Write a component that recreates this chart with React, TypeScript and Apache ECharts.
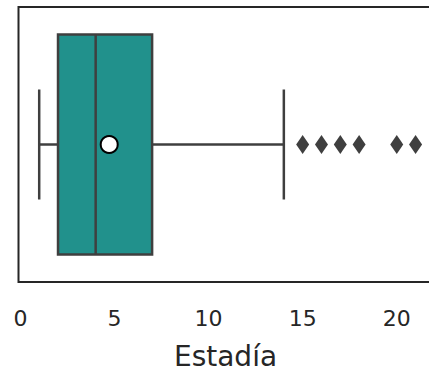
import React, { useEffect, useRef } from "react";
import * as echarts from "echarts";

// Five-number summary of the stay length: [lower whisker, Q1, median, Q3, upper whisker]
const boxStats = [1, 2, 4, 7, 14];
// Values beyond the whiskers
const outliers = [15, 16, 17, 18, 20, 21];
// Mean stay length
const meanValue = [4.72];
const axisTicks = [0, 5, 10, 15, 20];
const axisTitle = "Estadía";

const LINE = "#3f3f3f";
const FILL = "#21918c";
const FONT = "DejaVu Sans";

export default function App() {
  const ref = useRef<HTMLDivElement>(null);

  useEffect(() => {
    if (!ref.current) return;
    const chart = echarts.init(ref.current, undefined, { renderer: "svg" });

    chart.setOption({
      animation: false,
      backgroundColor: "#ffffff",
      grid: {
        show: true,
        left: 18.5,
        top: 7,
        right: -3.5,
        bottom: 90,
        outerBoundsMode: "none",
        containLabel: false,
        borderColor: "#262626",
        borderWidth: 2,
        backgroundColor: "transparent",
      },
      xAxis: {
        type: "value",
        min: -0.1,
        max: 21.9,
        splitNumber: 5,
        axisLine: { show: false },
        axisTick: { show: false },
        splitLine: { show: false },
        axisLabel: {
          margin: 25,
          fontSize: 22,
          fontFamily: FONT,
          color: "#262626",
          formatter: (v: number) => (axisTicks.includes(v) ? String(v) : ""),
        },
        name: axisTitle,
        nameLocation: "middle",
        nameGap: 60,
        nameTextStyle: { fontSize: 28, fontFamily: FONT, color: "#262626" },
      },
      yAxis: {
        type: "value",
        min: -0.5,
        max: 0.5,
        show: false,
      },
      series: [
        {
          type: "custom",
          coordinateSystem: "cartesian2d",
          data: [boxStats],
          encode: { x: [0, 1, 2, 3, 4] },
          z: 2,
          renderItem: (_params: any, api: any) => {
            const lo = api.value(0);
            const q1 = api.value(1);
            const med = api.value(2);
            const q3 = api.value(3);
            const hi = api.value(4);
            const pLo = api.coord([lo, 0]);
            const pQ1 = api.coord([q1, 0]);
            const pMed = api.coord([med, 0]);
            const pQ3 = api.coord([q3, 0]);
            const pHi = api.coord([hi, 0]);
            const unit = api.size([0, 1])[1];
            const halfBox = unit * 0.4;
            const halfCap = unit * 0.2;
            const cy = pLo[1];
            const ls = { stroke: LINE, lineWidth: 2.5, fill: "none" };
            return {
              type: "group",
              children: [
                { type: "line", shape: { x1: pLo[0], y1: cy, x2: pQ1[0], y2: cy }, style: ls },
                { type: "line", shape: { x1: pQ3[0], y1: cy, x2: pHi[0], y2: cy }, style: ls },
                { type: "line", shape: { x1: pLo[0], y1: cy - halfCap, x2: pLo[0], y2: cy + halfCap }, style: ls },
                { type: "line", shape: { x1: pHi[0], y1: cy - halfCap, x2: pHi[0], y2: cy + halfCap }, style: ls },
                {
                  type: "rect",
                  shape: { x: pQ1[0], y: cy - halfBox, width: pQ3[0] - pQ1[0], height: halfBox * 2 },
                  style: { fill: FILL, stroke: LINE, lineWidth: 2.5 },
                },
                { type: "line", shape: { x1: pMed[0], y1: cy - halfBox, x2: pMed[0], y2: cy + halfBox }, style: ls },
              ],
            };
          },
        },
        {
          type: "scatter",
          data: outliers.map((v) => [v, 0]),
          symbol: "diamond",
          symbolSize: [13, 19],
          itemStyle: { color: LINE, opacity: 1 },
          z: 3,
        },
        {
          type: "scatter",
          data: meanValue.map((v) => [v, 0]),
          symbol: "circle",
          symbolSize: 17,
          itemStyle: { color: "#ffffff", borderColor: "#000000", borderWidth: 2, opacity: 1 },
          z: 4,
        },
      ],
    });

    return () => chart.dispose();
  }, []);

  return (
    <div
      ref={ref}
      style={{ position: "fixed", left: 0, top: 0, width: 429, height: 372 }}
    />
  );
}
